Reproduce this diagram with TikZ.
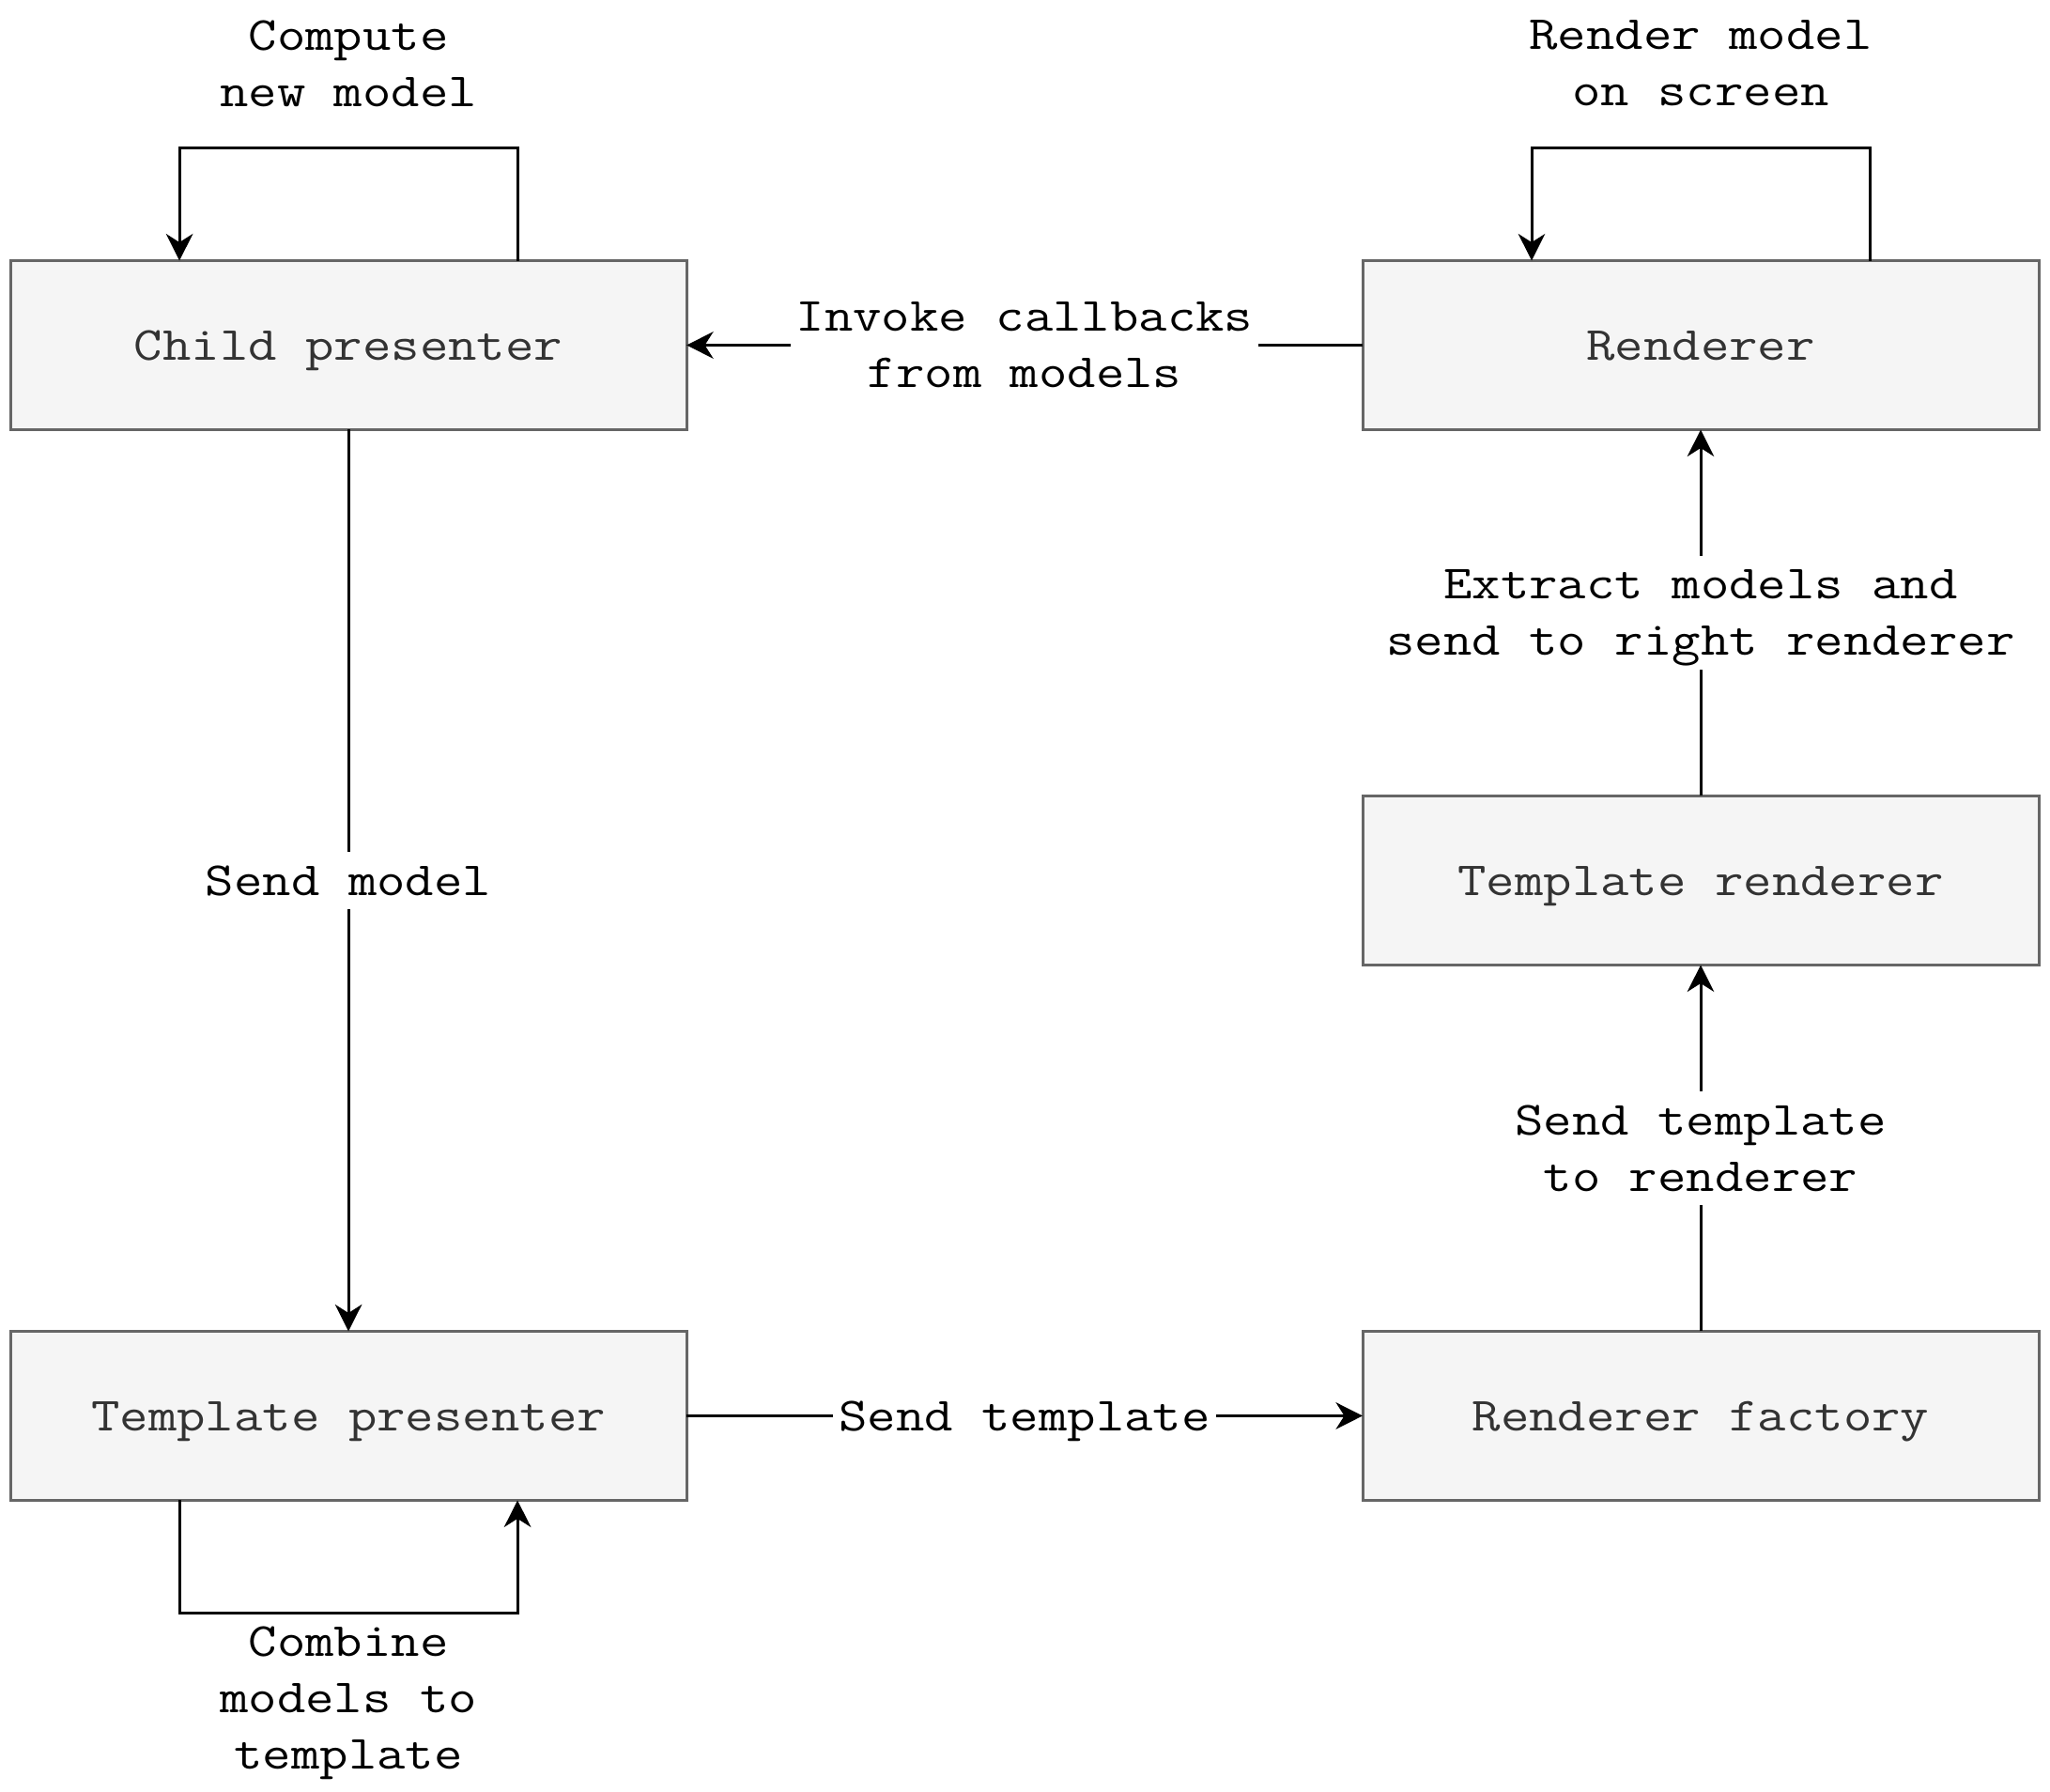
\documentclass[tikz,border=0pt]{standalone}
\usepackage{fontspec}
\setmonofont{Latin Modern Mono}[FakeStretch=1.165]
\usepackage{tikz}
\usetikzlibrary{arrows.meta,positioning}
\definecolor{boxfill}{HTML}{F5F5F5}
\definecolor{boxline}{HTML}{666666}
\definecolor{boxtext}{HTML}{333333}
\tikzset{
  stage/.style={draw=boxline,fill=boxfill,line width=1pt,minimum width=240pt,minimum height=60pt,
    outer sep=0pt,inner sep=0pt,text height=10.5pt,text depth=0pt,text=boxtext,
    font=\ttfamily\fontsize{16.9pt}{20pt}\selectfont},
  lbl/.style={align=center,inner xsep=2pt,inner ysep=5pt,text depth=0pt,font=\ttfamily\fontsize{16.9pt}{20pt}\selectfont},
  elbl/.style={lbl,fill=white,midway},
  arr/.style={-{Stealth[length=9.5pt,width=9.5pt,inset=3pt]},line width=1pt,color=black}
}
\begin{document}
\begin{tikzpicture}[node distance=130pt and 240pt]
  \useasboundingbox (-123.7pt,122.5pt) rectangle (604pt,-513.2pt);
  \node[stage] (child) at (0,0) {Child presenter};
  \node[stage,right=of child] (renderer) {Renderer};
  \node[stage,below=of renderer] (trend) {Template renderer};
  \node[stage,below=of trend] (factory) {Renderer factory};
  \node[stage,left=of factory] (tpres) {Template presenter};
  % self loops
  \draw[arr] ([xshift=60pt]child.north) -- ++(0,40pt) -| ([xshift=-60pt]child.north);
  \draw[arr] ([xshift=60pt]renderer.north) -- ++(0,40pt) -| ([xshift=-60pt]renderer.north);
  \draw[arr] ([xshift=-60pt]tpres.south) -- ++(0,-40pt) -| ([xshift=60pt]tpres.south);
  \node[lbl] (computetxt) at ([yshift=70pt]child.north) {Compute\\new model};
  \node[lbl] (screentxt) at ([yshift=70pt]renderer.north) {Render model\\on screen};
  \node[lbl] (combinetxt) at ([yshift=-70pt]tpres.south) {Combine\\models to\\template};
  % flow
  \draw[arr] (renderer) -- node[elbl] {Invoke callbacks\\from models} (child);
  \draw[arr] (child) -- node[elbl] {Send model} (tpres);
  \draw[arr] (tpres) -- node[elbl] {Send template} (factory);
  \draw[arr] (factory) -- node[elbl] {Send template\\to renderer} (trend);
  \draw[arr] (trend) -- node[elbl] {Extract models and\\send to right renderer} (renderer);
\end{tikzpicture}
\end{document}
